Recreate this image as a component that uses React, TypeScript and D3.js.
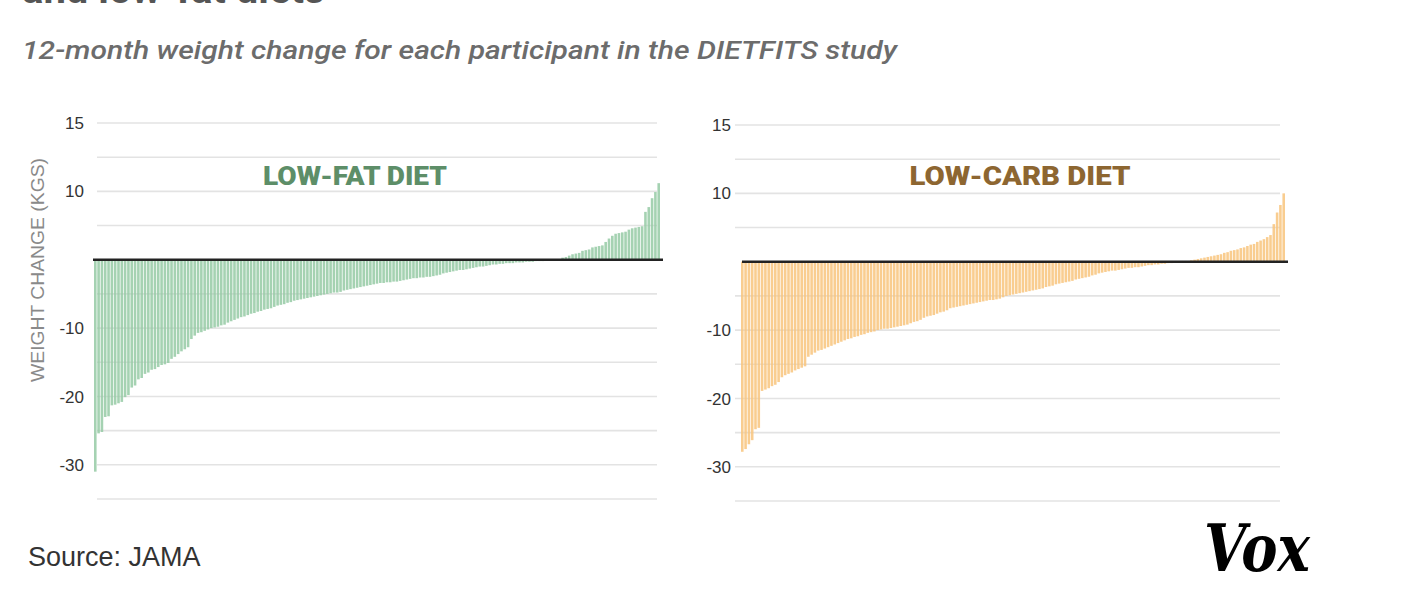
import React from "react";
import * as d3 from "d3";

// sorted 12-month weight change (kg), one value per participant bar
const lowFat: number[] = [
  -31, -25.4, -25.2, -23, -22.9, -21.3, -21.2, -21, -20.8, -20.1,
  -19.8, -18.7, -18.4, -17.5, -17.3, -16.7, -16.5, -16.1, -16, -15.7,
  -15.4, -15.3, -15.1, -14.5, -14.2, -13.8, -13.4, -13.1, -12.8, -11.6,
  -11.1, -10.7, -10.6, -10.4, -10.2, -10, -9.9, -9.8, -9.6, -9.5,
  -9.2, -9.0, -8.8, -8.6, -8.4, -8.3, -8.1, -7.9, -7.8, -7.6,
  -7.5, -7.3, -7.2, -7.1, -6.9, -6.7, -6.6, -6.5, -6.3, -6.2,
  -6.0, -5.9, -5.8, -5.7, -5.6, -5.5, -5.4, -5.3, -5.2, -5.1,
  -5.0, -4.9, -4.8, -4.8, -4.7, -4.5, -4.4, -4.3, -4.2, -4.1,
  -4.0, -3.9, -3.8, -3.7, -3.6, -3.5, -3.4, -3.4, -3.3, -3.3,
  -3.2, -3.2, -3.1, -3.0, -2.9, -2.8, -2.7, -2.7, -2.6, -2.6,
  -2.5, -2.5, -2.4, -2.3, -2.2, -2.0, -1.9, -1.8, -1.7, -1.6,
  -1.5, -1.5, -1.4, -1.3, -1.2, -1.1, -1.0, -1.0, -0.9, -0.8,
  -0.7, -0.7, -0.6, -0.6, -0.5, -0.5, -0.5, -0.4, -0.4, -0.4,
  -0.3, -0.3, -0.3, -0.2, -0.2, -0.2, -0.1, -0.1, -0.1, -0.05,
  0.05, 0.3, 0.4, 0.6, 0.8, 0.9, 1.0, 1.3, 1.4, 1.5,
  1.8, 1.9, 2.0, 2.1, 2.6, 3.1, 3.5, 3.8, 3.9, 4.0,
  4.1, 4.4, 4.6, 4.7, 4.8, 4.9, 7.0, 7.7, 9.0, 9.9,
  11.2,
];

const lowCarb: number[] = [
  -27.8, -27.4, -26.7, -26.1, -24.5, -24.3, -18.9, -18.7, -18.5, -18.2,
  -18.0, -17.6, -16.9, -16.6, -16.4, -16.2, -15.9, -15.7, -15.5, -15.3,
  -13.9, -13.6, -13.3, -13.0, -12.9, -12.7, -12.5, -12.3, -12.1, -11.9,
  -11.7, -11.5, -11.3, -11.2, -11.0, -10.9, -10.7, -10.6, -10.4, -10.3,
  -10.2, -10.0, -9.9, -9.8, -9.8, -9.7, -9.6, -9.5, -9.4, -9.3,
  -9.2, -9.0, -8.8, -8.7, -8.5, -8.2, -8.0, -7.9, -7.8, -7.6,
  -7.4, -7.3, -7.1, -6.8, -6.7, -6.6, -6.5, -6.4, -6.3, -6.2,
  -6.1, -6.0, -5.9, -5.8, -5.7, -5.6, -5.6, -5.5, -5.4, -5.2,
  -5.0, -4.9, -4.8, -4.7, -4.6, -4.5, -4.4, -4.3, -4.2, -4.1,
  -4.0, -3.9, -3.7, -3.6, -3.5, -3.3, -3.2, -3.1, -3.0, -2.9,
  -2.8, -2.6, -2.5, -2.4, -2.3, -2.2, -2.0, -1.9, -1.7, -1.6,
  -1.5, -1.4, -1.3, -1.3, -1.2, -1.1, -1.0, -0.9, -0.9, -0.8,
  -0.8, -0.7, -0.6, -0.5, -0.5, -0.4, -0.4, -0.3, -0.3, -0.2,
  -0.2, -0.1, -0.1, -0.05, 0.05, 0.1, 0.2, 0.3, 0.4, 0.5,
  0.6, 0.7, 0.8, 0.9, 1.0, 1.1, 1.3, 1.4, 1.6, 1.7,
  1.8, 2.0, 2.1, 2.3, 2.5, 2.6, 2.9, 3.1, 3.3, 3.6,
  3.9, 5.5, 7.2, 8.3, 10.0,
];

// gridlines every 5 kg; labels as printed on the original axis
const gridValues = [20, 15, 10, 5, -5, -10, -15, -20, -25, -30, -35];
const tickValues = [20, 10, -10, -20, -30];
const tickLabels = ["15", "10", "-10", "-20", "-30"];

const yDomain: [number, number] = [-35, 20];

interface PanelProps {
  data: number[];
  title: string;
  titleColor: string;
  titleWidth: number;
  barColor: string;
  gridX: [number, number];
  barX: [number, number];
  zeroX: [number, number];
  yRange: [number, number];
  labelX: number;
  titleX: number;
}

function Panel(props: PanelProps) {
  const y = d3.scaleLinear().domain(yDomain).range(props.yRange);
  const x = d3
    .scaleBand<number>()
    .domain(d3.range(props.data.length))
    .range(props.barX)
    .paddingInner(0.22);

  return (
    <g>
      {gridValues.map((v) => (
        <line
          key={v}
          x1={props.gridX[0]}
          x2={props.gridX[1]}
          y1={y(v)}
          y2={y(v)}
          stroke="#e3e3e3"
          strokeWidth={1.6}
        />
      ))}
      {tickValues.map((v, i) => (
        <text
          key={v}
          x={props.labelX}
          y={y(v)}
          dy="0.36em"
          textAnchor="end"
          fontFamily="Liberation Sans, Arial, sans-serif"
          fontSize={17}
          fill="#333"
        >
          {tickLabels[i]}
        </text>
      ))}
      {props.data.map((d, i) => (
        <rect
          key={i}
          x={x(i)}
          width={x.bandwidth()}
          y={y(Math.max(0, d))}
          height={Math.abs(y(d) - y(0))}
          fill={props.barColor}
          fillOpacity={0.85}
        />
      ))}
      <line
        x1={props.zeroX[0]}
        x2={props.zeroX[1]}
        y1={y(0)}
        y2={y(0)}
        stroke="#222"
        strokeWidth={2.6}
      />
      <text
        x={props.titleX}
        y={185}
        textAnchor="middle"
        fontFamily="Roboto, sans-serif"
        fontWeight={900}
        fontSize={25}
        fill={props.titleColor}
        textLength={props.titleWidth}
        lengthAdjust="spacingAndGlyphs"
      >
        {props.title}
      </text>
    </g>
  );
}

export default function App() {
  return (
    <svg
      width={1405}
      height={600}
      style={{ position: "absolute", left: 0, top: 0, background: "#fff" }}
    >
      <text
        x={22}
        y={3}
        fontFamily="Roboto, sans-serif"
        fontWeight={700}
        fontSize={40}
        fill="#555"
      >
        and low-fat diets
      </text>
      <text
        x={22}
        y={59}
        fontFamily="Roboto, sans-serif"
        fontStyle="italic"
        fontWeight={500}
        fontSize={25}
        fill="#6c6c6c"
        textLength={875}
        lengthAdjust="spacingAndGlyphs"
      >
        12-month weight change for each participant in the DIETFITS study
      </text>
      <text
        transform="translate(44,270) rotate(-90)"
        textAnchor="middle"
        fontFamily="Liberation Sans, Arial, sans-serif"
        fontSize={18}
        fill="#8a8a8a"
        textLength={224}
        lengthAdjust="spacingAndGlyphs"
      >
        WEIGHT CHANGE (KGS)
      </text>
      <Panel
        data={lowFat}
        title="LOW-FAT DIET"
        titleColor="#5d8e68"
        titleWidth={184}
        barColor="#95caa5"
        gridX={[97, 657]}
        barX={[94, 660]}
        zeroX={[93, 663]}
        yRange={[499, 123]}
        labelX={84}
        titleX={355}
      />
      <Panel
        data={lowCarb}
        title="LOW-CARB DIET"
        titleColor="#8d6631"
        titleWidth={221}
        barColor="#f8c47c"
        gridX={[735, 1280]}
        barX={[741, 1285]}
        zeroX={[742, 1288]}
        yRange={[501, 125]}
        labelX={731}
        titleX={1020}
      />
      <text
        x={28}
        y={566}
        fontFamily="Liberation Sans, Arial, sans-serif"
        fontSize={27}
        fill="#333"
      >
        Source: JAMA
      </text>
      <text
        x={1204}
        y={571}
        fontFamily="DejaVu Serif, serif"
        fontWeight={700}
        fontStyle="italic"
        fontSize={66}
        fill="#000"
        textLength={106}
        lengthAdjust="spacingAndGlyphs"
      >
        Vox
      </text>
    </svg>
  );
}
